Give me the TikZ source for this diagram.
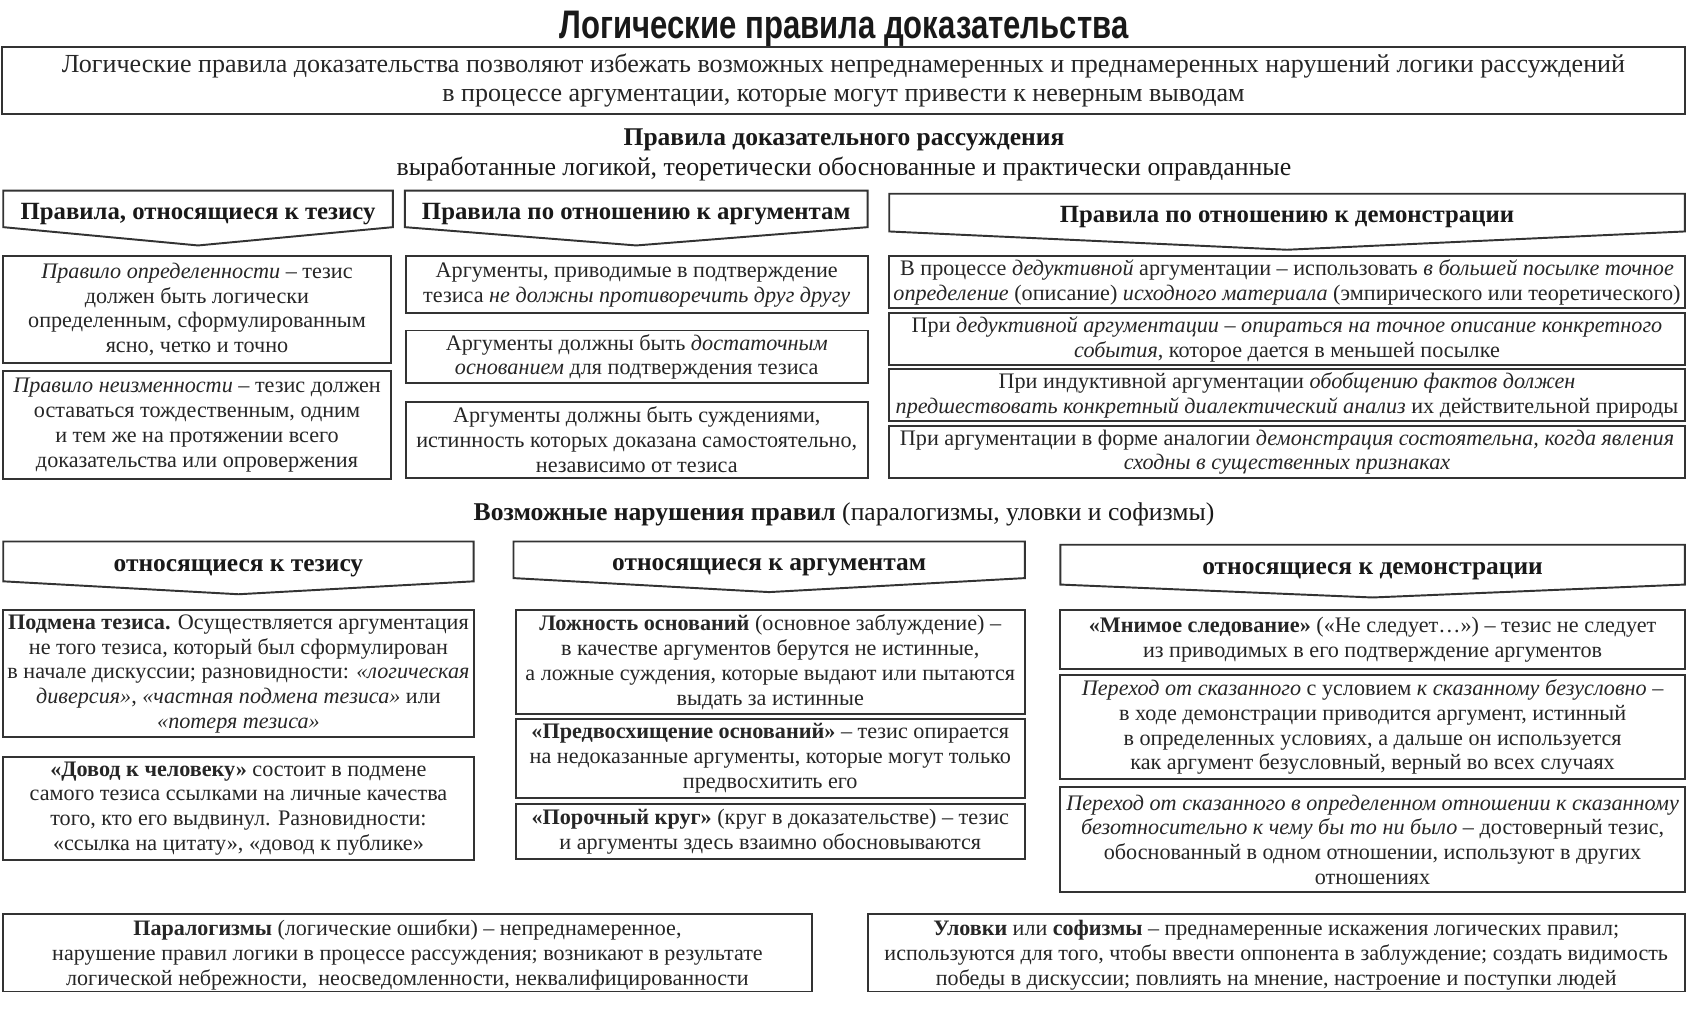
\documentclass[tikz,border=0pt]{standalone}
\usepackage{fontspec}
\setmainfont{Liberation Serif}
\newfontfamily\titlefont[FakeStretch=0.78]{Liberation Sans}
\usetikzlibrary{calc}
% #1 options, #2 name, #3 x1, #4 y1, #5 x2, #6 y2, #7 text
\newcommand\mybox[7][]{\node[bx,minimum width={(#5-#3)*0.5pt},minimum height={(#6-#4)*0.5pt},#1] (#2) at ({(#3+#5)/2},{(#4+#6)/2}) {#7};}
% #1 options, #2 name, #3 x1, #4 top, #5 x2, #6 side bottom, #7 tip, #8 text
\newcommand\myhdr[8][]{\draw[bxline] (#3,#4) -- (#5,#4) -- (#5,#6) -- ({(#3+#5)/2},#7) -- (#3,#6) -- cycle;
  \node[hdtext,anchor=base,#1] (#2) at ({(#3+#5)/2},{(#4+#6)/2+9.5}) {#8};}
\begin{document}
\begin{tikzpicture}[x=0.5pt,y=-0.5pt,
  bxline/.style={draw=black!80,line width=0.9pt},
  bx/.style={bxline,inner sep=0pt,align=center,text=black!85,font=\fontsize{10.3pt}{11.5pt}\selectfont},
  hdtext/.style={inner sep=0pt,align=center,text=black!90,font=\bfseries\fontsize{11.5pt}{13pt}\selectfont},
  hdtwo/.style={font=\bfseries\fontsize{11.8pt}{13pt}\selectfont},
  ttl/.style={inner sep=0pt,align=center,text=black!90}]
\fill[white] (0,0) rectangle (1568,937);
\useasboundingbox (0,0) rectangle (1568,937);

\node[ttl,anchor=base,font=\titlefont\bfseries\fontsize{18.5pt}{20pt}\selectfont] (title) at (784,36) {Логические правила доказательства};

\mybox[font=\fontsize{12.1pt}{13.5pt}\selectfont]{intro}{2}{44}{1565}{106}{Логические правила доказательства позволяют избежать возможных непреднамеренных и преднамеренных нарушений логики рассуждений\\в процессе аргументации, которые могут привести к неверным выводам}

\node[ttl,font=\bfseries\fontsize{11.85pt}{13pt}\selectfont] (sec1) at (784,130) {Правила доказательного рассуждения};
\node[ttl,font=\fontsize{12pt}{13pt}\selectfont] (sec1sub) at (784,157) {выработанные логикой, теоретически обоснованные и практически оправданные};

\myhdr{h1}{3}{177}{365}{211}{228}{Правила, относящиеся к тезису}
\myhdr{h2}{376}{177}{806}{211}{228}{Правила по отношению к аргументам}
\myhdr{h3}{826}{180}{1565}{215}{232}{Правила по отношению к демонстрации}

\mybox{b1}{3}{238}{363}{337}{\textit{Правило определенности} – тезис\\должен быть логически\\определенным, сформулированным\\ясно, четко и точно}
\mybox{b2}{3}{345}{363}{445}{\textit{Правило неизменности} – тезис должен\\оставаться тождественным, одним\\и тем же на протяжении всего\\доказательства или опровержения}

\mybox{m1}{377}{238}{806}{291}{Аргументы, приводимые в подтверждение\\тезиса \textit{не должны противоречить друг другу}}
\mybox{m2}{377}{307}{806}{356}{Аргументы должны быть \textit{достаточным}\\\textit{основанием} для подтверждения тезиса}
\mybox{m3}{377}{373}{806}{444}{Аргументы должны быть суждениями,\\истинность которых доказана самостоятельно,\\независимо от тезиса}

\mybox{r1}{826}{238}{1565}{286}{В процессе \textit{дедуктивной} аргументации – использовать \textit{в большей посылке точное}\\\textit{определение} (описание) \textit{исходного материала} (эмпирического или теоретического)}
\mybox{r2}{826}{291}{1565}{339}{При \textit{дедуктивной аргументации – опираться на точное описание конкретного}\\\textit{события}, которое дается в меньшей посылке}
\mybox{r3}{826}{343}{1565}{391}{При индуктивной аргументации \textit{обобщению фактов должен}\\\textit{предшествовать конкретный диалектический анализ} их действительной природы}
\mybox{r4}{826}{396}{1565}{444}{При аргументации в форме аналогии \textit{демонстрация состоятельна, когда явления}\\\textit{сходны в существенных признаках}}

\node[ttl,font=\fontsize{11.9pt}{13pt}\selectfont] (sec2) at (784,478) {\textbf{Возможные нарушения правил} (паралогизмы, уловки и софизмы)};

\myhdr[hdtwo]{g1}{3}{503}{440}{540}{552}{относящиеся к тезису}
\myhdr[hdtwo]{g2}{477}{503}{952}{537}{550}{относящиеся к аргументам}
\myhdr[hdtwo]{g3}{985}{506}{1565}{543}{555}{относящиеся к демонстрации}

\mybox{l1}{3}{567}{440}{685}{\textbf{Подмена тезиса.} Осуществляется аргументация\\не того тезиса, который был сформулирован\\в начале дискуссии; разновидности: \textit{«логическая}\\\textit{диверсия»}, \textit{«частная подмена тезиса»} или\\\textit{«потеря тезиса»}}
\mybox{l2}{3}{703}{440}{799}{\textbf{«Довод к человеку»} состоит в подмене\\самого тезиса ссылками на личные качества\\того, кто его выдвинул. Разновидности:\\«ссылка на цитату», «довод к публике»}

\mybox{a1}{479}{567}{952}{663}{\textbf{Ложность оснований} (основное заблуждение) –\\в качестве аргументов берутся не истинные,\\а ложные суждения, которые выдают или пытаются\\выдать за истинные}
\mybox{a2}{479}{668}{952}{741}{\textbf{«Предвосхищение оснований»} – тезис опирается\\на недоказанные аргументы, которые могут только\\предвосхитить его}
\mybox{a3}{479}{747}{952}{798}{\textbf{«Порочный круг»} (круг в доказательстве) – тезис\\и аргументы здесь взаимно обосновываются}

\mybox{d1}{985}{567}{1565}{621}{\textbf{«Мнимое следование»} («Не следует…») – тезис не следует\\из приводимых в его подтверждение аргументов}
\mybox{d2}{985}{627}{1565}{724}{\textit{Переход от сказанного} с условием \textit{к сказанному безусловно} –\\в ходе демонстрации приводится аргумент, истинный\\в определенных условиях, а дальше он используется\\как аргумент безусловный, верный во всех случаях}
\mybox{d3}{985}{731}{1565}{829}{\textit{Переход от сказанного в определенном отношении к сказанному}\\\textit{безотносительно к чему бы то ни было} – достоверный тезис,\\обоснованный в одном отношении, используют в других\\отношениях}

\mybox[font=\fontsize{10.25pt}{11.5pt}\selectfont,text depth=-2pt]{p}{3}{849}{754}{921}{\textbf{Паралогизмы} (логические ошибки) – непреднамеренное,\\нарушение правил логики в процессе рассуждения; возникают в результате\\логической небрежности,\ \ неосведомленности, неквалифицированности}
\mybox[font=\fontsize{10.25pt}{11.5pt}\selectfont,text depth=-2pt]{u}{806}{849}{1565}{921}{\textbf{Уловки} или \textbf{софизмы} – преднамеренные искажения логических правил;\\используются для того, чтобы ввести оппонента в заблуждение; создать видимость\\победы в дискуссии; повлиять на мнение, настроение и поступки людей}
\end{tikzpicture}
\end{document}
